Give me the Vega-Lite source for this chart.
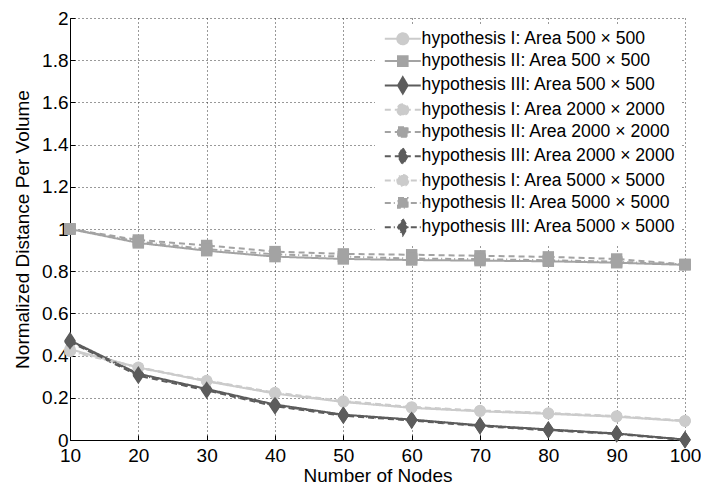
{
  "$schema": "https://vega.github.io/schema/vega-lite/v6.json",
  "autosize": "none",
  "width": 615,
  "height": 422,
  "padding": {"left": 70, "top": 18, "right": 16, "bottom": 47},
  "background": "white",
  "config": {
    "font": "Liberation Sans",
    "view": {"stroke": null},
    "axis": {
      "domainColor": "black",
      "domainWidth": 1,
      "tickColor": "black",
      "tickSize": -5,
      "labelColor": "black",
      "labelFontSize": 19,
      "labelFont": "Liberation Sans",
      "titleFont": "Liberation Sans",
      "titleFontSize": 19,
      "titleFontWeight": "normal",
      "titleColor": "black",
      "grid": true,
      "gridColor": "#333333",
      "gridDash": [1, 3],
      "gridWidth": 1,
      "labelFlush": false,
      "labelOverlap": false
    }
  },
  "data": {
    "values": [
      {"nodes": 10, "value": 0.43, "hyp": "I", "area": "500", "series": "hypothesis I: Area 500 × 500"},
      {"nodes": 20, "value": 0.344, "hyp": "I", "area": "500", "series": "hypothesis I: Area 500 × 500"},
      {"nodes": 30, "value": 0.278, "hyp": "I", "area": "500", "series": "hypothesis I: Area 500 × 500"},
      {"nodes": 40, "value": 0.22, "hyp": "I", "area": "500", "series": "hypothesis I: Area 500 × 500"},
      {"nodes": 50, "value": 0.18, "hyp": "I", "area": "500", "series": "hypothesis I: Area 500 × 500"},
      {"nodes": 60, "value": 0.152, "hyp": "I", "area": "500", "series": "hypothesis I: Area 500 × 500"},
      {"nodes": 70, "value": 0.136, "hyp": "I", "area": "500", "series": "hypothesis I: Area 500 × 500"},
      {"nodes": 80, "value": 0.124, "hyp": "I", "area": "500", "series": "hypothesis I: Area 500 × 500"},
      {"nodes": 90, "value": 0.11, "hyp": "I", "area": "500", "series": "hypothesis I: Area 500 × 500"},
      {"nodes": 100, "value": 0.089, "hyp": "I", "area": "500", "series": "hypothesis I: Area 500 × 500"},
      {"nodes": 10, "value": 1.0, "hyp": "II", "area": "500", "series": "hypothesis II: Area 500 × 500"},
      {"nodes": 20, "value": 0.934, "hyp": "II", "area": "500", "series": "hypothesis II: Area 500 × 500"},
      {"nodes": 30, "value": 0.897, "hyp": "II", "area": "500", "series": "hypothesis II: Area 500 × 500"},
      {"nodes": 40, "value": 0.869, "hyp": "II", "area": "500", "series": "hypothesis II: Area 500 × 500"},
      {"nodes": 50, "value": 0.858, "hyp": "II", "area": "500", "series": "hypothesis II: Area 500 × 500"},
      {"nodes": 60, "value": 0.853, "hyp": "II", "area": "500", "series": "hypothesis II: Area 500 × 500"},
      {"nodes": 70, "value": 0.85, "hyp": "II", "area": "500", "series": "hypothesis II: Area 500 × 500"},
      {"nodes": 80, "value": 0.847, "hyp": "II", "area": "500", "series": "hypothesis II: Area 500 × 500"},
      {"nodes": 90, "value": 0.84, "hyp": "II", "area": "500", "series": "hypothesis II: Area 500 × 500"},
      {"nodes": 100, "value": 0.83, "hyp": "II", "area": "500", "series": "hypothesis II: Area 500 × 500"},
      {"nodes": 10, "value": 0.472, "hyp": "III", "area": "500", "series": "hypothesis III: Area 500 × 500"},
      {"nodes": 20, "value": 0.314, "hyp": "III", "area": "500", "series": "hypothesis III: Area 500 × 500"},
      {"nodes": 30, "value": 0.242, "hyp": "III", "area": "500", "series": "hypothesis III: Area 500 × 500"},
      {"nodes": 40, "value": 0.168, "hyp": "III", "area": "500", "series": "hypothesis III: Area 500 × 500"},
      {"nodes": 50, "value": 0.12, "hyp": "III", "area": "500", "series": "hypothesis III: Area 500 × 500"},
      {"nodes": 60, "value": 0.097, "hyp": "III", "area": "500", "series": "hypothesis III: Area 500 × 500"},
      {"nodes": 70, "value": 0.07, "hyp": "III", "area": "500", "series": "hypothesis III: Area 500 × 500"},
      {"nodes": 80, "value": 0.05, "hyp": "III", "area": "500", "series": "hypothesis III: Area 500 × 500"},
      {"nodes": 90, "value": 0.031, "hyp": "III", "area": "500", "series": "hypothesis III: Area 500 × 500"},
      {"nodes": 100, "value": 0.002, "hyp": "III", "area": "500", "series": "hypothesis III: Area 500 × 500"},
      {"nodes": 10, "value": 0.425, "hyp": "I", "area": "2000", "series": "hypothesis I: Area 2000 × 2000"},
      {"nodes": 20, "value": 0.345, "hyp": "I", "area": "2000", "series": "hypothesis I: Area 2000 × 2000"},
      {"nodes": 30, "value": 0.282, "hyp": "I", "area": "2000", "series": "hypothesis I: Area 2000 × 2000"},
      {"nodes": 40, "value": 0.225, "hyp": "I", "area": "2000", "series": "hypothesis I: Area 2000 × 2000"},
      {"nodes": 50, "value": 0.185, "hyp": "I", "area": "2000", "series": "hypothesis I: Area 2000 × 2000"},
      {"nodes": 60, "value": 0.157, "hyp": "I", "area": "2000", "series": "hypothesis I: Area 2000 × 2000"},
      {"nodes": 70, "value": 0.14, "hyp": "I", "area": "2000", "series": "hypothesis I: Area 2000 × 2000"},
      {"nodes": 80, "value": 0.128, "hyp": "I", "area": "2000", "series": "hypothesis I: Area 2000 × 2000"},
      {"nodes": 90, "value": 0.114, "hyp": "I", "area": "2000", "series": "hypothesis I: Area 2000 × 2000"},
      {"nodes": 100, "value": 0.092, "hyp": "I", "area": "2000", "series": "hypothesis I: Area 2000 × 2000"},
      {"nodes": 10, "value": 1.0, "hyp": "II", "area": "2000", "series": "hypothesis II: Area 2000 × 2000"},
      {"nodes": 20, "value": 0.948, "hyp": "II", "area": "2000", "series": "hypothesis II: Area 2000 × 2000"},
      {"nodes": 30, "value": 0.922, "hyp": "II", "area": "2000", "series": "hypothesis II: Area 2000 × 2000"},
      {"nodes": 40, "value": 0.893, "hyp": "II", "area": "2000", "series": "hypothesis II: Area 2000 × 2000"},
      {"nodes": 50, "value": 0.882, "hyp": "II", "area": "2000", "series": "hypothesis II: Area 2000 × 2000"},
      {"nodes": 60, "value": 0.878, "hyp": "II", "area": "2000", "series": "hypothesis II: Area 2000 × 2000"},
      {"nodes": 70, "value": 0.873, "hyp": "II", "area": "2000", "series": "hypothesis II: Area 2000 × 2000"},
      {"nodes": 80, "value": 0.868, "hyp": "II", "area": "2000", "series": "hypothesis II: Area 2000 × 2000"},
      {"nodes": 90, "value": 0.858, "hyp": "II", "area": "2000", "series": "hypothesis II: Area 2000 × 2000"},
      {"nodes": 100, "value": 0.832, "hyp": "II", "area": "2000", "series": "hypothesis II: Area 2000 × 2000"},
      {"nodes": 10, "value": 0.465, "hyp": "III", "area": "2000", "series": "hypothesis III: Area 2000 × 2000"},
      {"nodes": 20, "value": 0.305, "hyp": "III", "area": "2000", "series": "hypothesis III: Area 2000 × 2000"},
      {"nodes": 30, "value": 0.235, "hyp": "III", "area": "2000", "series": "hypothesis III: Area 2000 × 2000"},
      {"nodes": 40, "value": 0.16, "hyp": "III", "area": "2000", "series": "hypothesis III: Area 2000 × 2000"},
      {"nodes": 50, "value": 0.115, "hyp": "III", "area": "2000", "series": "hypothesis III: Area 2000 × 2000"},
      {"nodes": 60, "value": 0.092, "hyp": "III", "area": "2000", "series": "hypothesis III: Area 2000 × 2000"},
      {"nodes": 70, "value": 0.066, "hyp": "III", "area": "2000", "series": "hypothesis III: Area 2000 × 2000"},
      {"nodes": 80, "value": 0.046, "hyp": "III", "area": "2000", "series": "hypothesis III: Area 2000 × 2000"},
      {"nodes": 90, "value": 0.028, "hyp": "III", "area": "2000", "series": "hypothesis III: Area 2000 × 2000"},
      {"nodes": 100, "value": 0.0, "hyp": "III", "area": "2000", "series": "hypothesis III: Area 2000 × 2000"},
      {"nodes": 10, "value": 0.42, "hyp": "I", "area": "5000", "series": "hypothesis I: Area 5000 × 5000"},
      {"nodes": 20, "value": 0.342, "hyp": "I", "area": "5000", "series": "hypothesis I: Area 5000 × 5000"},
      {"nodes": 30, "value": 0.28, "hyp": "I", "area": "5000", "series": "hypothesis I: Area 5000 × 5000"},
      {"nodes": 40, "value": 0.222, "hyp": "I", "area": "5000", "series": "hypothesis I: Area 5000 × 5000"},
      {"nodes": 50, "value": 0.182, "hyp": "I", "area": "5000", "series": "hypothesis I: Area 5000 × 5000"},
      {"nodes": 60, "value": 0.154, "hyp": "I", "area": "5000", "series": "hypothesis I: Area 5000 × 5000"},
      {"nodes": 70, "value": 0.138, "hyp": "I", "area": "5000", "series": "hypothesis I: Area 5000 × 5000"},
      {"nodes": 80, "value": 0.126, "hyp": "I", "area": "5000", "series": "hypothesis I: Area 5000 × 5000"},
      {"nodes": 90, "value": 0.112, "hyp": "I", "area": "5000", "series": "hypothesis I: Area 5000 × 5000"},
      {"nodes": 100, "value": 0.09, "hyp": "I", "area": "5000", "series": "hypothesis I: Area 5000 × 5000"},
      {"nodes": 10, "value": 1.0, "hyp": "II", "area": "5000", "series": "hypothesis II: Area 5000 × 5000"},
      {"nodes": 20, "value": 0.94, "hyp": "II", "area": "5000", "series": "hypothesis II: Area 5000 × 5000"},
      {"nodes": 30, "value": 0.905, "hyp": "II", "area": "5000", "series": "hypothesis II: Area 5000 × 5000"},
      {"nodes": 40, "value": 0.88, "hyp": "II", "area": "5000", "series": "hypothesis II: Area 5000 × 5000"},
      {"nodes": 50, "value": 0.869, "hyp": "II", "area": "5000", "series": "hypothesis II: Area 5000 × 5000"},
      {"nodes": 60, "value": 0.86, "hyp": "II", "area": "5000", "series": "hypothesis II: Area 5000 × 5000"},
      {"nodes": 70, "value": 0.857, "hyp": "II", "area": "5000", "series": "hypothesis II: Area 5000 × 5000"},
      {"nodes": 80, "value": 0.852, "hyp": "II", "area": "5000", "series": "hypothesis II: Area 5000 × 5000"},
      {"nodes": 90, "value": 0.845, "hyp": "II", "area": "5000", "series": "hypothesis II: Area 5000 × 5000"},
      {"nodes": 100, "value": 0.832, "hyp": "II", "area": "5000", "series": "hypothesis II: Area 5000 × 5000"},
      {"nodes": 10, "value": 0.468, "hyp": "III", "area": "5000", "series": "hypothesis III: Area 5000 × 5000"},
      {"nodes": 20, "value": 0.31, "hyp": "III", "area": "5000", "series": "hypothesis III: Area 5000 × 5000"},
      {"nodes": 30, "value": 0.238, "hyp": "III", "area": "5000", "series": "hypothesis III: Area 5000 × 5000"},
      {"nodes": 40, "value": 0.164, "hyp": "III", "area": "5000", "series": "hypothesis III: Area 5000 × 5000"},
      {"nodes": 50, "value": 0.118, "hyp": "III", "area": "5000", "series": "hypothesis III: Area 5000 × 5000"},
      {"nodes": 60, "value": 0.095, "hyp": "III", "area": "5000", "series": "hypothesis III: Area 5000 × 5000"},
      {"nodes": 70, "value": 0.068, "hyp": "III", "area": "5000", "series": "hypothesis III: Area 5000 × 5000"},
      {"nodes": 80, "value": 0.048, "hyp": "III", "area": "5000", "series": "hypothesis III: Area 5000 × 5000"},
      {"nodes": 90, "value": 0.03, "hyp": "III", "area": "5000", "series": "hypothesis III: Area 5000 × 5000"},
      {"nodes": 100, "value": 0.001, "hyp": "III", "area": "5000", "series": "hypothesis III: Area 5000 × 5000"}
    ]
  },
  "encoding": {
    "x": {
      "field": "nodes", "type": "quantitative",
      "scale": {"domain": [10, 100], "nice": false, "zero": false},
      "axis": {"values": [10, 20, 30, 40, 50, 60, 70, 80, 90, 100], "format": "d", "title": "Number of Nodes", "labelPadding": 11, "titlePadding": 1}
    },
    "y": {
      "field": "value", "type": "quantitative",
      "scale": {"domain": [0, 2], "nice": false},
      "axis": {"values": [0, 0.2, 0.4, 0.6, 0.8, 1, 1.2, 1.4, 1.6, 1.8, 2], "format": "~g", "title": "Normalized Distance Per Volume", "labelPadding": 7, "titlePadding": 9}
    }
  },
  "layer": [
    {
      "mark": {"type": "line", "strokeWidth": 2},
      "encoding": {
        "color": {
          "field": "series", "type": "nominal",
          "scale": {
            "domain": ["hypothesis I: Area 500 × 500", "hypothesis II: Area 500 × 500", "hypothesis III: Area 500 × 500", "hypothesis I: Area 2000 × 2000", "hypothesis II: Area 2000 × 2000", "hypothesis III: Area 2000 × 2000", "hypothesis I: Area 5000 × 5000", "hypothesis II: Area 5000 × 5000", "hypothesis III: Area 5000 × 5000"],
            "range": ["#cbcbcb", "#a3a3a3", "#5c5c5c", "#cbcbcb", "#a3a3a3", "#5c5c5c", "#cbcbcb", "#a3a3a3", "#5c5c5c"]
          },
          "legend": {
            "title": null,
            "orient": "none",
            "legendX": 305,
            "legendY": 7,
            "padding": 5,
            "fillColor": "white",
            "strokeColor": null,
            "labelFontSize": 17.6,
            "labelColor": "black",
            "labelFont": "Liberation Sans",
            "labelLimit": 400,
            "symbolSize": 144,
            "symbolStrokeWidth": 2,
            "symbolOffset": 14,
            "labelOffset": 10,
            "rowPadding": 2.3,
            "encode": {
              "symbols": {
                "update": {
                  "shape": {"signal": "indexof(datum.value, 'III:') >= 0 ? 'M-3,0H3M0,-1.35L0.8,0L0,1.35L-0.8,0Z' : indexof(datum.value, 'II:') >= 0 ? 'M-3,0H3M-0.8,-0.8H0.8V0.8H-0.8Z' : 'M-3,0H3M0.92,0A0.92,0.92,0,1,1,-0.92,0A0.92,0.92,0,1,1,0.92,0Z'"},
                  "fill": {"signal": "indexof(datum.value, 'III:') >= 0 ? '#5c5c5c' : indexof(datum.value, 'II:') >= 0 ? '#a3a3a3' : '#cbcbcb'"},
                  "strokeDash": {"signal": "indexof(datum.value, '5000') >= 0 ? [6, 3, 1, 3] : indexof(datum.value, '2000') >= 0 ? [6, 4] : [1, 0]"},
                  "strokeWidth": {"value": 2},
                  "opacity": {"value": 1},
                  "fillOpacity": {"value": 1},
                  "strokeOpacity": {"value": 1}
                }
              }
            }
          }
        },
        "strokeDash": {
          "field": "area", "type": "nominal",
          "scale": {"domain": ["500", "2000", "5000"], "range": [[1, 0], [6, 4], [6, 3, 1, 3]]},
          "legend": null
        }
      }
    },
    {
      "mark": {"type": "point", "filled": true, "opacity": 1, "size": 130},
      "encoding": {
        "color": {"field": "series", "type": "nominal", "legend": null},
        "shape": {
          "field": "hyp", "type": "nominal",
          "scale": {"domain": ["I", "II", "III"], "range": ["circle", "square", "M0,-1.5L1,0L0,1.5L-1,0Z"]},
          "legend": null
        }
      }
    }
  ]
}
